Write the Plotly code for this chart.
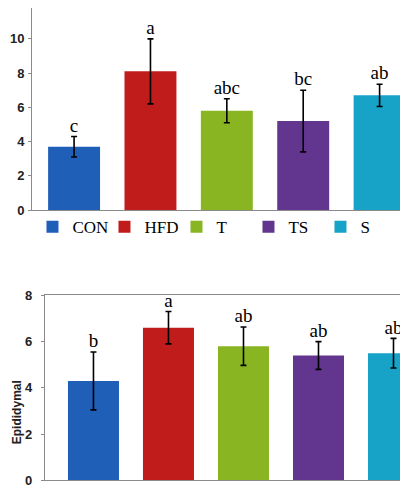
import plotly.graph_objects as go

groups = ["CON", "HFD", "T", "TS", "S"]
colors = ["#1F5FB8", "#C01C1C", "#8AB523", "#62358F", "#17A3C8"]

# upper panel
top_mean = [3.7, 8.1, 5.8, 5.2, 6.7]
top_err = [0.6, 1.9, 0.7, 1.8, 0.65]
top_letters = ["c", "a", "abc", "bc", "ab"]

# lower panel
low_mean = [4.3, 6.6, 5.8, 5.4, 5.5]
low_err = [1.25, 0.7, 0.83, 0.6, 0.64]
low_letters = ["b", "a", "ab", "ab", "ab"]

serif = "Liberation Serif"
fig = go.Figure()

for i, g in enumerate(groups):
    fig.add_trace(go.Bar(
        x=[i], y=[top_mean[i]], name=g, width=0.68,
        marker=dict(color=colors[i], line=dict(width=0)),
        error_y=dict(type="data", array=[top_err[i]], color="black", thickness=1.6, width=3),
        xaxis="x", yaxis="y", legend="legend",
    ))
    fig.add_trace(go.Bar(
        x=[i], y=[low_mean[i]], name=g, width=0.68, showlegend=False,
        marker=dict(color=colors[i], line=dict(width=0)),
        error_y=dict(type="data", array=[low_err[i]], color="black", thickness=1.6, width=3),
        xaxis="x2", yaxis="y2",
    ))

fig.add_trace(go.Scatter(
    x=list(range(len(groups))), y=[m + e for m, e in zip(top_mean, top_err)],
    text=top_letters, mode="text", textposition="top center",
    textfont=dict(family=serif, size=19, color="black"),
    showlegend=False, hoverinfo="skip", xaxis="x", yaxis="y", cliponaxis=False,
))
fig.add_trace(go.Scatter(
    x=list(range(len(groups))), y=[m + e for m, e in zip(low_mean, low_err)],
    text=low_letters, mode="text", textposition="top center",
    textfont=dict(family=serif, size=19, color="black"),
    showlegend=False, hoverinfo="skip", xaxis="x2", yaxis="y2", cliponaxis=False,
))

axis_line = dict(showline=True, linecolor="#8a8a8a", linewidth=1,
                 showgrid=False, zeroline=False, automargin=False)
tick_font = dict(family="Liberation Sans", size=13, color="#222222", weight="bold")

fig.update_layout(
    width=408, height=487,
    margin=dict(l=0, r=0, t=0, b=0),
    paper_bgcolor="white", plot_bgcolor="white",
    barmode="overlay",
    xaxis=dict(domain=[0.059, 0.995], range=[-0.55, 4.45], showticklabels=False,
               anchor="y", mirror=False, **axis_line),
    yaxis=dict(domain=[0.585, 1.0], range=[0, 11.8], tickvals=[0, 2, 4, 6, 8, 10],
               ticks="outside", ticklen=3, tickcolor="#8a8a8a", ticklabelstandoff=1,
               tickfont=tick_font, anchor="x", mirror=True, **axis_line),
    xaxis2=dict(domain=[0.09, 1.0], range=[-0.65, 4.3], showticklabels=False,
                anchor="y2", mirror=True, **axis_line),
    yaxis2=dict(domain=[0.03, 0.41], range=[0, 8], tickvals=[0, 2, 4, 6, 8],
                ticks="outside", ticklen=3, tickcolor="#8a8a8a", ticklabelstandoff=6,
                tickfont=tick_font, anchor="x2", mirror=True, **axis_line),
    legend=dict(orientation="h", x=0.06, y=0.55, xanchor="left", yanchor="middle",
                entrywidth=27, entrywidthmode="pixels", itemwidth=30,
                font=dict(family=serif, size=17, color="black"),
                bgcolor="rgba(0,0,0,0)"),
    annotations=[dict(
        text="Epididymal", textangle=-90, xref="paper", yref="paper",
        x=0.0, y=0.17, xanchor="left", yanchor="middle", showarrow=False,
        font=dict(family="Liberation Sans", size=12, color="#222222", weight="bold"),
    )],
)

fig.write_html("out.html")
